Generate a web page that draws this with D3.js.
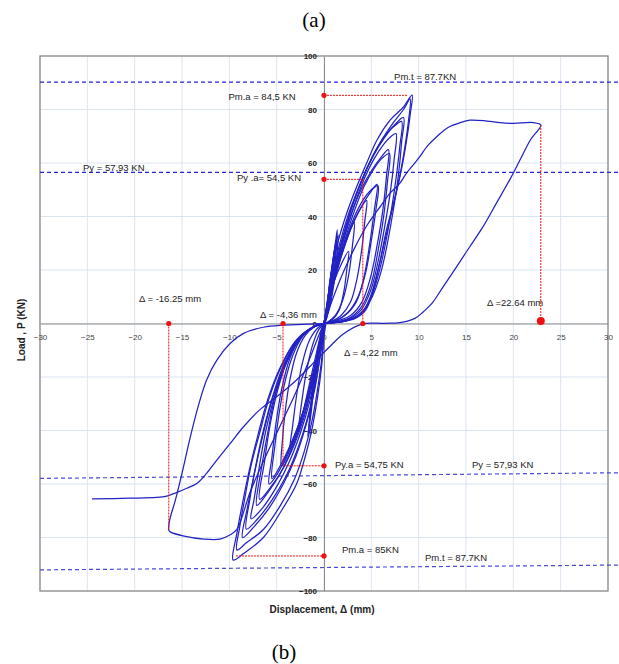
<!DOCTYPE html>
<html>
<head>
<meta charset="utf-8">
<script src="https://cdn.jsdelivr.net/npm/d3@7"></script>
<style>
body { margin: 0; background: #fff; }
svg { display: block; }
</style>
</head>
<body>
<div id="chart"></div>
<script>

// axis ticks
var xTicks = [-30, -25, -20, -15, -10, -5, 0, 5, 10, 15, 20, 25, 30];
var yTicks = [-100, -80, -60, -40, -20, 0, 20, 40, 60, 80, 100];

// hysteresis cycles, [displacement mm, load kN]
var cycle1 = [[0,0],[0.3,6],[0.6,13],[0.8,19],[0.7,14],[0.5,8],[0.2,2],[0,0],[-0.3,-5],[-0.6,-12],[-0.8,-19],[-0.6,-13],[-0.3,-6],[0,0]];
var cycle2 = [[0,0],[0.35,8],[0.7,17],[1.1,27],[0.95,20],[0.7,11],[0.3,3],[-0.1,-1],[-0.4,-7],[-0.8,-17],[-1.2,-28],[-0.95,-20],[-0.6,-11],[-0.2,-3],[0,0]];
var cycle3 = [[0,0],[0.4,9],[0.8,20],[1.2,30],[1.4,35],[1.3,28],[1.0,17],[0.6,7],[0.2,1],[-0.2,-2],[-0.6,-9],[-1.0,-20],[-1.3,-30],[-1.5,-36],[-1.3,-28],[-0.9,-16],[-0.5,-7],[0,0]];
var cycle3b = [[0,0],[0.3,7],[0.7,17],[1.1,27],[1.5,33],[1.35,25],[1.05,15],[0.6,6],[0.1,0.5],[-0.3,-4],[-0.7,-13],[-1.1,-24],[-1.5,-35],[-1.7,-42],[-1.45,-33],[-1.05,-21],[-0.6,-10],[-0.2,-2],[0,0]];
var cycle3c = [[0,0],[0.25,5],[0.6,14],[0.95,23],[1.25,31],[1.1,24],[0.85,15],[0.5,6],[0.1,0.5],[-0.25,-4],[-0.65,-12],[-1.0,-22],[-1.35,-33],[-1.6,-40],[-1.35,-30],[-0.95,-18],[-0.5,-8],[0,0]];
var cycle4 = [[0,0],[0.5,8],[1.1,16],[1.8,22],[2.6,27],[2.4,20],[2.1,12],[1.6,5],[0.9,1.5],[0.2,0],[-0.5,-2],[-1.2,-8],[-1.8,-17],[-2.3,-28],[-2.7,-40],[-2.2,-33],[-1.5,-22],[-0.8,-11],[-0.2,-2],[0,0]];
var cycle4b = [[0,0],[0.4,7],[1.0,16],[1.7,25],[2.5,33],[3.2,38],[3.0,29],[2.6,18],[2.0,9],[1.2,3],[0.3,0.3],[-0.6,-1.5],[-1.5,-6],[-2.3,-15],[-2.9,-27],[-3.3,-38],[-3.6,-47],[-2.9,-41],[-2.0,-31],[-1.2,-19],[-0.5,-8],[0,0]];
var cycle5 = [[0,0],[0.4,6],[1.0,15],[1.8,25],[2.8,35],[3.7,42],[4.5,46],[4.3,38],[4.0,28],[3.5,17],[2.8,8],[1.8,3],[0.8,0.8],[0,0],[-1.0,-1.2],[-2.0,-4.5],[-2.9,-11],[-3.6,-21],[-4.1,-33],[-4.4,-44],[-4.5,-53.5],[-3.8,-49],[-2.9,-41],[-2.0,-31],[-1.2,-20],[-0.5,-9],[0,0]];
var cycle6 = [[0,0],[0.4,6],[1.1,16],[2.0,27],[3.0,37],[4.0,44],[4.9,49],[5.6,52],[5.3,42],[4.8,29],[4.2,17],[3.4,8],[2.2,3],[1.0,0.8],[0,0],[-1.1,-1.3],[-2.3,-5],[-3.3,-12],[-4.2,-23],[-4.8,-35],[-5.2,-46],[-5.5,-58],[-4.6,-53],[-3.5,-45],[-2.4,-35],[-1.5,-24],[-0.7,-12],[-0.1,-2],[0,0]];
var cycle6b = [[0,0],[0.5,8],[1.2,18],[2.1,29],[3.1,39],[4.1,46],[5.0,50],[5.7,51.5],[5.5,43],[5.0,31],[4.4,19],[3.6,10],[2.5,4],[1.2,1],[0,0],[-1.2,-1.5],[-2.5,-5.5],[-3.6,-13],[-4.5,-25],[-5.1,-38],[-5.5,-50],[-5.8,-60],[-4.9,-56],[-3.8,-48],[-2.7,-38],[-1.7,-27],[-0.8,-14],[-0.2,-3],[0,0]];
var cycle7 = [[0,0],[0.4,7],[1.0,17],[1.8,28],[2.8,40],[3.9,50],[5.0,57],[6.0,62],[6.8,65],[6.6,55],[6.2,42],[5.6,29],[4.9,17],[4.0,8],[2.8,3],[1.4,1],[0,0],[-1.1,-1.2],[-2.5,-5],[-3.8,-13],[-4.9,-25],[-5.7,-38],[-6.3,-52],[-6.8,-65.7],[-5.6,-61],[-4.3,-54],[-3.1,-45],[-2.1,-35],[-1.3,-24],[-0.6,-12],[-0.1,-3],[0,0]];
var cycle8 = [[0,0],[0.5,8],[1.2,19],[2.1,30],[3.1,41],[4.2,51],[5.3,58],[6.2,62],[6.9,63.5],[6.7,53],[6.3,40],[5.7,27],[5.0,15],[4.1,7],[2.9,2.5],[1.5,0.7],[0,0],[-1.2,-1.5],[-2.7,-5.5],[-4.0,-14],[-5.1,-26],[-5.9,-40],[-6.6,-54],[-7.1,-68],[-5.9,-63],[-4.6,-56],[-3.3,-46],[-2.2,-35],[-1.3,-23],[-0.6,-11],[0,0]];
var cycle8b = [[0,0],[0.45,8],[1.1,18],[1.9,29],[2.9,41],[4.0,52],[5.2,61],[6.3,67],[7.1,70],[7.6,71],[7.4,61],[7.0,49],[6.4,36],[5.7,23],[4.9,12],[3.9,5],[2.5,1.5],[1.0,0.3],[0,0],[-1.1,-1.4],[-2.6,-6],[-4.0,-15],[-5.2,-27],[-6.2,-41],[-6.9,-55],[-7.4,-66],[-7.7,-73],[-6.5,-69],[-5.0,-61],[-3.7,-52],[-2.5,-41],[-1.5,-29],[-0.7,-15],[-0.1,-3],[0,0]];
var cycle9 = [[0,0],[0.4,7],[1.0,18],[1.8,30],[2.8,42],[3.9,53],[5.1,62],[6.3,69],[7.4,74],[8.4,77],[8.2,68],[8.0,60],[7.7,51],[7.3,42],[6.7,30],[6.0,19],[5.1,10],[4.0,4],[2.5,1.2],[1.0,0.3],[0,0],[-1.1,-1.2],[-2.7,-6],[-4.2,-15],[-5.4,-27],[-6.4,-40],[-7.2,-53],[-7.8,-65],[-8.2,-76.9],[-7.0,-73],[-5.5,-66],[-4.0,-57],[-2.8,-47],[-1.8,-36],[-1.0,-24],[-0.4,-12],[0,-3],[0.1,0]];
var cycle10 = [[0,0],[0.5,9],[1.2,21],[2.1,33],[3.1,45],[4.3,56],[5.5,65],[6.6,71],[7.5,74],[8.2,75.5],[8.0,66],[7.6,54],[7.1,42],[6.5,30],[5.8,19],[5.0,10],[3.9,4],[2.4,1],[0,0],[-1.2,-1.5],[-2.8,-7],[-4.3,-17],[-5.6,-30],[-6.6,-44],[-7.4,-57],[-8.1,-69],[-8.6,-80],[-7.4,-76],[-5.8,-69],[-4.3,-60],[-3.0,-50],[-1.9,-38],[-1.0,-25],[-0.4,-12],[0,0]];
var cycle11 = [[0,0],[0.28,3.8],[0.63,16.3],[1.34,28.7],[2.4,41.2],[3.45,51.1],[4.5,59.9],[5.6,68.6],[7.0,76.1],[8.4,81],[9.3,85.4],[9.1,78],[8.7,68],[8.2,58],[7.5,47],[6.6,35],[5.9,23],[5.2,12.5],[4.4,5],[3.3,1.9],[1.5,0.5],[0,0],[-1.1,-1.2],[-2.9,-6.2],[-4.5,-16],[-5.8,-28],[-6.8,-41],[-7.7,-53],[-8.4,-66],[-8.9,-76],[-9.2,-84.7],[-8.2,-82],[-6.4,-77],[-4.6,-68],[-3.1,-58],[-2.1,-48],[-1.3,-37],[-0.7,-25],[-0.2,-12],[0,0]];
var cycle12 = [[0,0],[0.4,6],[0.9,17],[1.6,29],[2.6,41],[3.7,51],[4.8,60],[6.0,68],[7.3,75],[8.4,80],[9.1,84],[8.9,75],[8.5,65],[8.0,55],[7.3,44],[6.5,32],[5.7,20],[4.9,10],[4.0,4],[2.8,1.5],[1.2,0.3],[0,0],[-1.2,-1.3],[-3.0,-6.5],[-4.7,-17],[-6.0,-29],[-7.0,-42],[-7.9,-55],[-8.6,-67],[-9.2,-78.4],[-9.6,-88.4],[-8.5,-86],[-6.4,-80],[-4.5,-70],[-2.9,-60],[-2.0,-50],[-1.3,-40],[-0.7,-28],[-0.25,-16],[0,-5],[0.2,0]];
var cycleNeg16 = [[0,0],[-1.5,-0.2],[-4.3,-0.6],[-6.4,-1.4],[-8.5,-3.7],[-9.9,-7.4],[-11.3,-13.6],[-12.4,-21.1],[-13.3,-31.1],[-14.2,-43.6],[-15.0,-56],[-15.7,-66],[-16.3,-73.5],[-16.4,-77.2],[-16.2,-78],[-14.9,-79.4],[-12.7,-80.6],[-11,-80.6],[-9.9,-79],[-9.2,-77],[-7.8,-63],[-6.2,-50],[-4.6,-38],[-3.0,-26],[-1.6,-14],[-0.5,-4],[0,0]];
var cycleFinal = [[0,0],[0.8,8],[1.9,18],[3.2,28],[4.6,37],[6.0,44],[7.0,48.8],[8.0,52.4],[8.7,56.1],[10,61.8],[11,66.7],[11.9,69.8],[13.1,73.3],[14.4,75.1],[15.4,76],[17.2,75.7],[18.6,75.1],[20,74.8],[22.1,75.1],[22.9,74.2],[21.8,68.6],[20.7,61.1],[19.6,53.6],[18.2,44.9],[16.8,36.2],[15.4,28.7],[14,21.2],[12.6,13.8],[11.4,7.5],[10.5,4.4],[9.6,1.9],[8,0.3],[6.3,0.07],[4,-0.2],[2,-4],[0.6,-8.7],[-0.8,-13.6],[-2.9,-21.1],[-5,-27.4],[-6.8,-32.3],[-8.5,-38.6],[-9.9,-44.8],[-11.3,-51],[-12.4,-56],[-13.4,-59.7],[-14.5,-61.6],[-15.6,-63.2],[-16.6,-64.5],[-17.7,-65],[-20.5,-65.3],[-24.5,-65.6]];

var cycles = [cycle1, cycle2, cycle3, cycle3b, cycle3c, cycle4, cycle4b, cycle5, cycle6, cycle6b, cycle7, cycle8, cycle8b,
  cycle9, cycle10, cycle11, cycle12, cycleNeg16, cycleFinal];

// reference load levels (dashed), start and end points
var refLines = [
  [[-30, 90.2], [31.3, 90.2]],
  [[-30, 56.5], [31.3, 56.5]],
  [[-30, -57.9], [31.3, -55.8]],
  [[-30, -92.1], [31.3, -90.3]]
];

// red markers
var redLines = [
  [[0, 85.3], [8.8, 85.3]],
  [[0, 53.9], [4.1, 53.9], [4.1, 0]],
  [[22.9, 74.2], [22.9, 0.9]],
  [[-16.4, 0], [-16.4, -77.2]],
  [[-4.33, 0], [-4.33, -53.2], [0, -53.2]],
  [[-9.3, -86.9], [0, -86.9]]
];
var redDots = [[0, 85.3], [0, 53.9], [4.1, 0], [-16.4, 0], [-4.33, 0], [0, -53.2], [0, -86.9]];
var bigDot = [22.9, 0.9];

var notes = [
  {t: "Pm.t = 87.7KN", d: 7.4, p: 91.2},
  {t: "Pm.a = 84,5 KN", d: -10.1, p: 83.4},
  {t: "Py = 57,93 KN", d: -25.46, p: 57.0},
  {t: "Py .a= 54,5 KN", d: -9.2, p: 53.1},
  {t: "\u0394 = -16.25 mm", d: -19.54, p: 8.0},
  {t: "\u0394 = -4,36 mm", d: -6.75, p: 2.2},
  {t: "\u0394 =22.64 mm", d: 17.22, p: 6.4},
  {t: "\u0394 = 4,22 mm", d: 2.11, p: -12.0},
  {t: "Py.a = 54,75 KN", d: 1.16, p: -54.2},
  {t: "Py = 57,93 KN", d: 15.63, p: -54.2},
  {t: "Pm.a = 85KN", d: 1.9, p: -85.8},
  {t: "Pm.t = 87.7KN", d: 10.67, p: -88.6}
];

var W = 619, H = 664;
var svg = d3.select('#chart').append('svg').attr('width', W).attr('height', H);

var x = d3.scaleLinear().domain([-30, 30]).range([40, 608]);
var y = d3.scaleLinear().domain([-100, 100]).range([591, 56]);

svg.append('text').attr('x', 314).attr('y', 27).attr('text-anchor', 'middle')
  .style('font-family', 'Liberation Serif, Times New Roman, serif').style('font-size', '21px').text('(a)');
svg.append('text').attr('x', 284).attr('y', 659).attr('text-anchor', 'middle')
  .style('font-family', 'Liberation Serif, Times New Roman, serif').style('font-size', '21px').text('(b)');

// grid
svg.append('g').selectAll('line').data(xTicks).enter().append('line')
  .attr('x1', function(d){ return x(d); }).attr('x2', function(d){ return x(d); })
  .attr('y1', y(100)).attr('y2', y(-100))
  .attr('stroke', '#dbe5f1').attr('stroke-width', 1);
svg.append('g').selectAll('line').data(yTicks).enter().append('line')
  .attr('y1', function(d){ return y(d); }).attr('y2', function(d){ return y(d); })
  .attr('x1', x(-30)).attr('x2', x(30))
  .attr('stroke', '#dbe5f1').attr('stroke-width', 1);

svg.append('rect').attr('x', x(-30)).attr('y', y(100))
  .attr('width', x(30) - x(-30)).attr('height', y(-100) - y(100))
  .attr('fill', 'none').attr('stroke', '#8c8c8c').attr('stroke-width', 1.3);

// axes through origin
var xAxis = svg.append('g').attr('transform', 'translate(0,' + y(0) + ')')
  .call(d3.axisBottom(x).tickValues(xTicks).tickSize(0).tickPadding(11));
var yAxis = svg.append('g').attr('transform', 'translate(' + x(0) + ',0)')
  .call(d3.axisLeft(y).tickValues(yTicks).tickSize(0).tickPadding(7));
xAxis.select('.domain').attr('stroke', '#8c8c8c');
yAxis.select('.domain').attr('stroke', '#8c8c8c');
xAxis.selectAll('text').style('font-family', 'Liberation Sans, Arial, sans-serif').style('font-size', '8px').attr('fill', '#444');
yAxis.selectAll('text').style('font-family', 'Liberation Sans, Arial, sans-serif').style('font-size', '8px')
  .style('font-weight', 'bold').attr('fill', '#222');

// dashed levels
var straight = d3.line().x(function(d){ return x(d[0]); }).y(function(d){ return y(d[1]); });
svg.append('g').selectAll('path').data(refLines).enter().append('path')
  .attr('d', straight).attr('fill', 'none')
  .attr('stroke', function(d, i){ return i < 2 ? '#2424d0' : '#4a4ad8'; })
  .attr('stroke-width', 1.2).attr('stroke-dasharray', '4,3');

// curves
var smooth = d3.line().curve(d3.curveCatmullRom.alpha(0.5))
  .x(function(d){ return x(d[0]); }).y(function(d){ return y(d[1]); });
svg.append('g').selectAll('path').data(cycles).enter().append('path')
  .attr('d', smooth).attr('fill', 'none')
  .attr('stroke', '#2222c4').attr('stroke-width', 1.25).attr('stroke-linejoin', 'round');

// red markers
svg.append('g').selectAll('path').data(redLines).enter().append('path')
  .attr('d', straight).attr('fill', 'none')
  .attr('stroke', '#ee1111').attr('stroke-width', 1).attr('stroke-dasharray', '2,1');
svg.append('g').selectAll('circle').data(redDots).enter().append('circle')
  .attr('cx', function(d){ return x(d[0]); }).attr('cy', function(d){ return y(d[1]); })
  .attr('r', 2.6).attr('fill', '#ee1111');
svg.append('circle').attr('cx', x(bigDot[0])).attr('cy', y(bigDot[1])).attr('r', 4).attr('fill', '#ee1111');

svg.append('g').selectAll('text').data(notes).enter().append('text')
  .attr('x', function(d){ return x(d.d); }).attr('y', function(d){ return y(d.p); })
  .style('font-family', 'Liberation Sans, Arial, sans-serif').style('font-size', '9.5px')
  .attr('fill', '#222').text(function(d){ return d.t; });

// axis titles
svg.append('text').attr('x', 322).attr('y', 613).attr('text-anchor', 'middle')
  .style('font-family', 'Liberation Sans, Arial, sans-serif').style('font-size', '10px').style('font-weight', 'bold')
  .attr('fill', '#222').text('Displacement, \u0394 (mm)');
svg.append('text').attr('transform', 'translate(25,330) rotate(-90)').attr('text-anchor', 'middle')
  .style('font-family', 'Liberation Sans, Arial, sans-serif').style('font-size', '10px').style('font-weight', 'bold')
  .attr('fill', '#222').text('Load ,  P (KN)');

</script>
</body>
</html>
